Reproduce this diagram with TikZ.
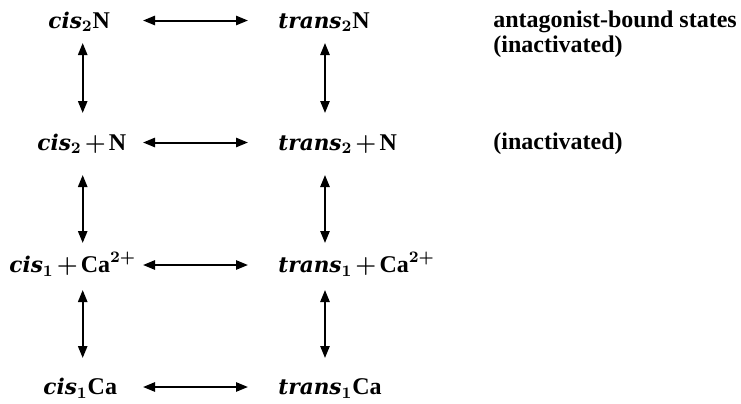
\documentclass[tikz,border=0pt]{standalone}
\usepackage{fontspec}
\setmainfont{Liberation Serif}
\newfontfamily\slnt[Scale=0.9]{DejaVu Serif}
\usetikzlibrary{arrows.meta,calc}
\newcommand{\iso}[1]{{\slnt\bfseries\itshape #1}}
\newcommand{\pl}{\mkern2mu{+}\mkern2mu}
\tikzset{
  state/.style={inner sep=0pt, anchor=base west,
    font=\fontsize{12}{12.5}\selectfont\bfseries\boldmath},
  note/.style={state, align=left},
  dbl/.style={{Triangle[length=6pt,width=4.6pt]}-{Triangle[length=6pt,width=4.6pt]},
    line width=1pt},
}
\begin{document}
\begin{tikzpicture}[x=0.5pt,y=-0.5pt]
  \useasboundingbox (0,0) rectangle (741,403);
  % columns of the arrows
  \coordinate (hL) at (143,0); \coordinate (hR) at (248,0);
  \coordinate (vL) at (82.7,0); \coordinate (vR) at (325,0);
  % states
  \node[state] (cisN)   at (48,28)    {\iso{cis}$_2$N};
  \node[state] (transN) at (278,28)   {\iso{trans}$_2$N};
  \node[state] (cisP)   at (37,150)   {\iso{cis}$_2\pl\mathrm{N}$};
  \node[state] (transP) at (278,150)  {\iso{trans}$_2\pl\mathrm{N}$};
  \node[state] (cisC)   at (9,272.5)  {\iso{cis}$_1\pl\mathrm{Ca}^{2+}$};
  \node[state] (transC) at (278,272.5){\iso{trans}$_1\pl\mathrm{Ca}^{2+}$};
  \node[state] (cisB)   at (43,394.5) {\iso{cis}$_1$Ca};
  \node[state] (transB) at (278,394.5){\iso{trans}$_1$Ca};
  \node[note] (ant) at (493,52) {antagonist-bound states\\(inactivated)};
  \node[note] (ina) at (493,149) {(inactivated)};
  % horizontal
  \draw[dbl] ($(cisN.base -| hL)+(0,-7.5)$) -- ($(transN.base -| hR)+(0,-7.5)$);
  \draw[dbl] ($(cisP.base -| hL)+(0,-7.5)$) -- ($(transP.base -| hR)+(0,-7.5)$);
  \draw[dbl] ($(cisC.base -| hL)+(0,-7.5)$) -- ($(transC.base -| hR)+(0,-7.5)$);
  \draw[dbl] ($(cisB.base -| hL)+(0,-7.5)$) -- ($(transB.base -| hR)+(0,-7.5)$);
  % vertical
  \draw[dbl] ($(cisN.base -| vL)+(0,15)$) -- ($(cisP.base -| vL)+(0,-37)$);
  \draw[dbl] ($(cisP.base -| vL)+(0,25)$) -- ($(cisC.base -| vL)+(0,-29.5)$);
  \draw[dbl] ($(cisC.base -| vL)+(0,17.5)$) -- ($(cisB.base -| vL)+(0,-36.5)$);
  \draw[dbl] ($(transN.base -| vR)+(0,15)$) -- ($(transP.base -| vR)+(0,-37)$);
  \draw[dbl] ($(transP.base -| vR)+(0,25)$) -- ($(transC.base -| vR)+(0,-29.5)$);
  \draw[dbl] ($(transC.base -| vR)+(0,17.5)$) -- ($(transB.base -| vR)+(0,-36.5)$);
\end{tikzpicture}
\end{document}
